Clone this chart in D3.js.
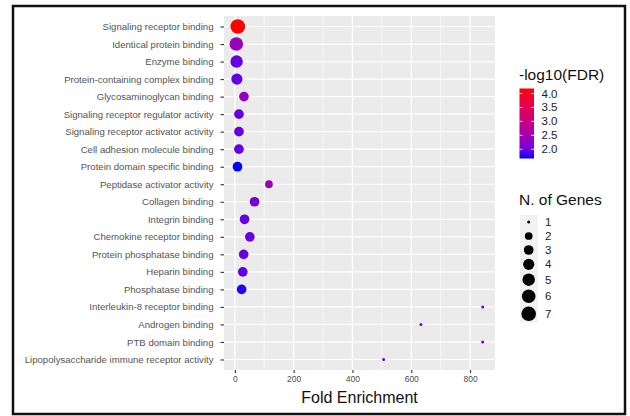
<!DOCTYPE html>
<html>
<head>
<meta charset="utf-8">
<script src="https://cdn.jsdelivr.net/npm/d3@7"></script>
<style>
  body { margin: 0; background: #fff; }
  text { font-family: "Liberation Sans", Arial, sans-serif; }
</style>
</head>
<body>
<div id="chart"></div>
<script>
// Chart data.
var terms = [
  "Signaling receptor binding",
  "Identical protein binding",
  "Enzyme binding",
  "Protein-containing complex binding",
  "Glycosaminoglycan binding",
  "Signaling receptor regulator activity",
  "Signaling receptor activator activity",
  "Cell adhesion molecule binding",
  "Protein domain specific binding",
  "Peptidase activator activity",
  "Collagen binding",
  "Integrin binding",
  "Chemokine receptor binding",
  "Protein phosphatase binding",
  "Heparin binding",
  "Phosphatase binding",
  "Interleukin-8 receptor binding",
  "Androgen binding",
  "PTB domain binding",
  "Lipopolysaccharide immune receptor activity"
];
var foldEnrichment = [10, 5, 6, 7, 31, 14, 14, 14, 9, 116, 67, 33, 51, 30, 27, 23, 843, 633, 843, 506];
var logFDR = [4.18, 2.38, 1.95, 1.95, 2.35, 1.95, 1.95, 1.95, 1.67, 2.4, 2.1, 1.95, 2.0, 1.95, 1.92, 1.7, 2.0, 2.0, 2.0, 2.0];
var nGenes = [7, 6, 5, 4, 3, 3, 3, 3, 3, 2, 3, 3, 3, 3, 3, 3, 1, 1, 1, 1];
var xTicks = [0, 200, 400, 600, 800];
var colorTicks = [2.0, 2.5, 3.0, 3.5, 4.0];
var sizeLevels = [1, 2, 3, 4, 5, 6, 7];

var width = 630, height = 416;
var panel = { left: 224, right: 495, top: 16, bottom: 370 };

var svg = d3.select("#chart").append("svg")
  .attr("width", width)
  .attr("height", height);

// outer frame
svg.append("rect")
  .attr("x", 13).attr("y", 6)
  .attr("width", 612).attr("height", 408)
  .attr("fill", "#fff")
  .attr("stroke", "#111")
  .attr("stroke-width", 2.5);

// ggplot style 5% expansion on continuous axis
var ext = d3.extent(foldEnrichment);
var pad = (ext[1] - ext[0]) * 0.05;
var x = d3.scaleLinear()
  .domain([ext[0] - pad, ext[1] + pad])
  .range([panel.left, panel.right]);

var y = d3.scalePoint()
  .domain(terms)
  .range([panel.top, panel.bottom])
  .padding(0.6);

var color = d3.scaleLinear()
  .domain(d3.extent(logFDR))
  .range(["blue", "red"])
  .interpolate(d3.interpolateLab);

// area-proportional sizes, like scale_size
var size = d3.scaleSqrt()
  .domain([0, d3.max(nGenes) - d3.min(nGenes)])
  .range([1.5, 7.3]);
var radius = function(n) { return size(n - d3.min(nGenes)); };

// panel background and grid
svg.append("rect")
  .attr("x", panel.left).attr("y", panel.top)
  .attr("width", panel.right - panel.left)
  .attr("height", panel.bottom - panel.top)
  .attr("fill", "#ebebeb");

var minor = d3.range(100, 900, 200);
svg.append("g").selectAll("line")
  .data(minor)
  .enter().append("line")
  .attr("x1", d => x(d)).attr("x2", d => x(d))
  .attr("y1", panel.top).attr("y2", panel.bottom)
  .attr("stroke", "#fff").attr("stroke-width", 0.6);

svg.append("g").selectAll("line")
  .data(xTicks)
  .enter().append("line")
  .attr("x1", d => x(d)).attr("x2", d => x(d))
  .attr("y1", panel.top).attr("y2", panel.bottom)
  .attr("stroke", "#fff").attr("stroke-width", 1.2);

svg.append("g").selectAll("line")
  .data(terms)
  .enter().append("line")
  .attr("x1", panel.left).attr("x2", panel.right)
  .attr("y1", d => y(d)).attr("y2", d => y(d))
  .attr("stroke", "#fff").attr("stroke-width", 1.2);

// axes
var xAxis = svg.append("g")
  .attr("transform", "translate(0," + panel.bottom + ")")
  .call(d3.axisBottom(x).tickValues(xTicks).tickSize(3).tickPadding(3));
xAxis.select(".domain").remove();
xAxis.selectAll("line").attr("stroke", "#333").attr("stroke-width", 1.1);
xAxis.selectAll("text")
  .attr("fill", "#4d4d4d")
  .style("font-size", "8.5px");

var yAxis = svg.append("g")
  .attr("transform", "translate(" + panel.left + ",0)")
  .call(d3.axisLeft(y).tickSize(3.5).tickPadding(7));
yAxis.select(".domain").remove();
yAxis.selectAll("line").attr("stroke", "#333").attr("stroke-width", 1.1);
yAxis.selectAll("text")
  .attr("fill", "#555")
  .style("font-size", "9.6px");

svg.append("text")
  .attr("x", (panel.left + panel.right) / 2)
  .attr("y", 403)
  .attr("text-anchor", "middle")
  .style("font-size", "16px")
  .attr("fill", "#111")
  .text("Fold Enrichment");

// points
var rows = terms.map((t, i) => ({ term: t, fe: foldEnrichment[i], fdr: logFDR[i], n: nGenes[i] }));
svg.append("g").selectAll("circle")
  .data(rows)
  .enter().append("circle")
  .attr("cx", d => x(d.fe))
  .attr("cy", d => y(d.term))
  .attr("r", d => radius(d.n))
  .attr("fill", d => color(d.fdr));

// colour legend
var cb = { x: 519.5, w: 14.5, top: 88.5, bottom: 158.5 };
var cy = d3.scaleLinear().domain(d3.extent(logFDR)).range([cb.bottom, cb.top]);

svg.append("text")
  .attr("x", 519).attr("y", 80)
  .style("font-size", "15.5px").attr("fill", "#111")
  .text("-log10(FDR)");

var grad = svg.append("defs").append("linearGradient")
  .attr("id", "fdrGrad")
  .attr("x1", 0).attr("y1", 1).attr("x2", 0).attr("y2", 0);
d3.range(0, 1.01, 0.1).forEach(function(t) {
  grad.append("stop")
    .attr("offset", t)
    .attr("stop-color", color(cy.domain()[0] + t * (cy.domain()[1] - cy.domain()[0])));
});
svg.append("rect")
  .attr("x", cb.x).attr("y", cb.top)
  .attr("width", cb.w).attr("height", cb.bottom - cb.top)
  .attr("fill", "url(#fdrGrad)");

var cbTicks = svg.append("g").selectAll("g")
  .data(colorTicks)
  .enter().append("g");
cbTicks.append("line")
  .attr("x1", cb.x).attr("x2", cb.x + 3)
  .attr("y1", d => cy(d)).attr("y2", d => cy(d))
  .attr("stroke", "#fff").attr("stroke-width", 0.8);
cbTicks.append("line")
  .attr("x1", cb.x + cb.w - 3).attr("x2", cb.x + cb.w)
  .attr("y1", d => cy(d)).attr("y2", d => cy(d))
  .attr("stroke", "#fff").attr("stroke-width", 0.8);
cbTicks.append("text")
  .attr("x", 541.5)
  .attr("y", d => cy(d))
  .attr("dy", "0.35em")
  .style("font-size", "11.5px").attr("fill", "#222")
  .text(d => d.toFixed(1));

// size legend
svg.append("text")
  .attr("x", 519).attr("y", 205)
  .style("font-size", "15.5px").attr("fill", "#111")
  .text("N. of Genes");

var keyTop = 215;
var keys = [];
var acc = keyTop;
sizeLevels.forEach(function(n) {
  var h = Math.max(14, 2 * radius(n) + 3.5);
  keys.push({ n: n, y: acc + h / 2, h: h });
  acc += h;
});
svg.append("rect")
  .attr("x", 520).attr("y", keyTop)
  .attr("width", 17.5).attr("height", acc - keyTop)
  .attr("fill", "#f2f2f2");

var sk = svg.append("g").selectAll("g")
  .data(keys)
  .enter().append("g");
sk.append("circle")
  .attr("cx", 528.7)
  .attr("cy", d => d.y)
  .attr("r", d => radius(d.n))
  .attr("fill", "#000");
sk.append("text")
  .attr("x", 545)
  .attr("y", d => d.y)
  .attr("dy", "0.35em")
  .style("font-size", "11.5px").attr("fill", "#222")
  .text(d => d.n);
</script>
</body>
</html>
